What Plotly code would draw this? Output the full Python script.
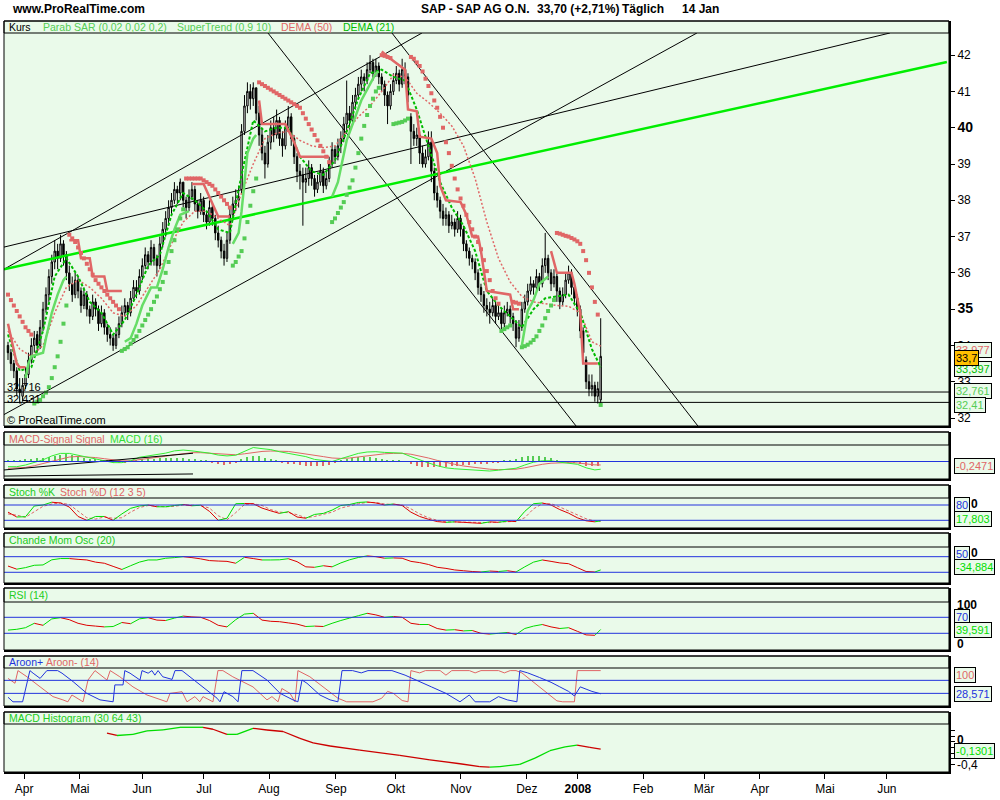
import plotly.graph_objects as go

# ---------------- DATA ----------------
open_ = [34.0,33.8,33.5,33.3,32.8,32.6,32.9,33.2,33.6,34.0,
         34.3,34.0,34.5,35.0,35.4,35.9,36.3,36.6,36.4,36.8,
         36.5,36.0,35.7,35.4,35.8,35.5,35.1,35.4,35.0,34.8,
         35.2,35.0,34.6,34.9,34.5,34.3,34.2,34.0,34.3,34.6,
         34.9,35.1,34.9,35.3,35.6,35.5,35.9,36.2,36.5,36.3,
         36.7,36.4,36.2,36.8,37.2,37.5,37.8,38.0,38.3,38.2,
         38.5,38.0,37.8,38.1,38.3,37.9,37.7,38.0,37.6,37.4,
         37.8,37.5,37.1,36.9,36.6,36.4,36.9,37.6,37.9,38.0,
         38.3,39.9,40.6,41.0,40.8,41.1,40.4,39.8,39.3,39.0,
         39.6,40.0,39.8,40.2,39.7,39.5,40.0,40.3,39.7,39.2,
         38.8,38.7,38.5,38.6,38.9,38.6,38.3,38.5,38.8,38.4,
         38.6,39.0,39.4,39.2,39.5,39.7,40.1,40.4,40.2,40.7,
         40.9,41.2,41.4,41.3,41.6,41.8,41.5,41.7,41.4,41.2,
         40.9,40.6,41.0,41.3,41.5,41.2,41.6,41.4,40.3,39.9,
         39.7,39.8,39.3,39.0,39.2,39.6,38.8,38.2,38.0,37.7,
         37.5,37.6,37.3,37.4,37.2,37.5,37.2,36.8,36.6,36.4,
         36.3,36.0,35.6,35.4,35.1,35.0,34.9,35.1,34.8,34.9,
         34.6,34.9,35.0,34.8,34.6,34.2,34.5,35.0,35.2,35.5,
         35.7,35.6,35.9,35.7,36.2,36.4,36.0,35.7,35.9,35.5,
         35.2,35.4,35.8,36.0,35.6,35.3,35.0,34.4,33.6,33.0,
         32.8,32.9,32.6,32.5]
high = [34.1,33.9,33.6,33.4,33.1,33.1,33.4,33.8,34.2,34.4,
        34.4,34.7,35.2,35.6,36.1,36.5,36.9,36.8,37.05,36.9,
        36.6,36.2,35.9,36.0,35.9,35.6,35.6,35.5,35.1,35.4,
        35.3,35.1,35.1,35.0,34.6,34.5,34.3,34.5,34.8,35.1,
        35.3,35.2,35.5,35.8,35.8,36.1,36.4,36.7,36.6,36.9,
        36.8,36.5,37.0,37.4,37.7,38.0,38.2,38.5,38.4,38.6,
        38.5,38.1,38.3,38.5,38.4,38.0,38.2,38.1,37.7,38.0,
        37.9,37.6,37.3,37.0,36.8,37.1,37.8,38.1,38.3,38.4,
        40.1,40.9,41.25,41.2,41.25,41.1,40.6,40.0,39.5,39.8,
        40.2,40.3,40.5,40.3,39.9,40.2,40.6,40.4,39.8,39.3,
        39.0,38.9,38.9,39.1,39.0,38.7,38.7,39.0,38.9,38.8,
        39.2,39.6,39.5,39.7,39.9,40.3,41.3,40.6,40.9,41.1,
        41.4,41.6,41.5,41.8,42.0,41.9,41.9,41.8,41.5,41.3,
        41.0,41.2,41.5,41.7,41.6,41.9,41.8,41.5,40.4,40.1,
        40.0,39.9,39.5,39.4,39.9,39.9,38.9,38.4,38.1,37.9,
        37.8,37.7,37.6,37.5,37.7,37.6,37.3,36.9,36.7,36.5,
        36.4,36.1,35.7,35.5,35.3,35.2,35.3,35.2,35.1,35.0,
        35.1,35.2,35.1,34.9,34.7,34.7,35.2,35.4,35.7,35.9,
        35.8,36.1,36.0,36.4,37.1,36.5,36.1,36.1,36.0,35.6,
        35.6,36.0,36.2,36.1,35.7,35.4,35.1,34.5,33.7,33.2,
        33.2,33.0,33.0,34.75]
low = [33.6,33.3,33.1,32.6,32.4,32.45,32.8,33.1,33.5,33.8,
       33.8,33.9,34.4,34.9,35.2,35.7,36.1,36.1,36.3,36.2,
       35.8,35.5,35.2,35.3,35.3,34.9,35.0,34.8,34.6,34.7,
       34.8,34.4,34.5,34.3,34.1,34.0,33.85,33.9,34.2,34.5,
       34.8,34.7,34.8,35.2,35.3,35.4,35.8,36.1,36.1,36.2,
       36.2,35.9,36.1,36.7,37.0,37.3,37.6,37.9,37.9,38.0,
       37.8,37.5,37.7,38.0,37.7,37.5,37.6,37.4,37.2,37.3,
       37.3,36.9,36.7,36.4,36.2,36.3,36.8,37.5,37.7,37.8,
       38.2,39.8,40.4,40.5,40.6,40.2,39.5,39.1,38.6,38.9,
       39.4,39.6,39.7,39.5,39.2,39.4,39.9,39.5,39.0,38.5,
       38.3,37.3,38.2,38.4,38.4,38.1,38.2,38.4,38.2,38.3,
       38.5,38.9,39.0,39.1,39.3,39.6,39.9,39.9,40.1,40.5,
       40.8,41.0,41.0,41.2,41.5,41.3,41.4,41.2,41.0,40.6,
       40.1,40.5,40.9,41.2,41.0,41.1,41.2,40.7,39.0,39.5,
       39.5,39.0,38.9,38.9,39.1,38.5,38.0,37.8,37.5,37.3,
       37.3,37.1,37.2,37.0,37.1,37.0,36.6,36.4,36.2,36.1,
       35.8,35.4,35.2,34.9,34.8,34.6,34.8,34.6,34.7,34.4,
       34.5,34.8,34.6,34.4,33.95,34.1,34.4,34.9,35.1,35.4,
       35.4,35.5,35.5,35.6,36.0,35.8,35.5,35.6,35.2,35.0,
       35.1,35.3,35.7,35.4,35.1,34.8,34.2,33.6,32.8,32.6,
       32.6,32.45,32.4,32.36]
close = [33.8,33.5,33.3,32.8,32.7,32.9,33.2,33.6,34.0,34.2,
         34.0,34.5,35.0,35.4,35.9,36.3,36.6,36.4,36.8,36.5,
         36.0,35.7,35.4,35.8,35.5,35.1,35.4,35.0,34.8,35.2,
         35.0,34.6,34.9,34.5,34.3,34.2,34.0,34.3,34.6,34.9,
         35.1,34.9,35.3,35.6,35.5,35.9,36.2,36.5,36.3,36.7,
         36.4,36.2,36.8,37.2,37.5,37.8,38.0,38.3,38.2,38.5,
         38.0,37.8,38.1,38.3,37.9,37.7,38.0,37.6,37.4,37.8,
         37.5,37.1,36.9,36.6,36.4,36.9,37.6,37.9,38.0,38.1,
         39.9,40.6,41.0,40.8,41.1,40.4,39.8,39.3,39.0,39.6,
         40.0,39.8,40.2,39.7,39.5,40.0,40.3,39.7,39.2,38.8,
         38.7,38.5,38.6,38.9,38.6,38.3,38.5,38.8,38.4,38.6,
         39.0,39.4,39.2,39.5,39.7,40.1,40.4,40.2,40.7,40.9,
         41.2,41.4,41.3,41.6,41.8,41.5,41.7,41.4,41.2,40.9,
         40.6,41.0,41.3,41.5,41.2,41.6,41.4,40.9,39.9,39.7,
         39.8,39.3,39.0,39.2,39.6,38.8,38.2,38.0,37.7,37.5,
         37.6,37.3,37.4,37.2,37.5,37.2,36.8,36.6,36.4,36.3,
         36.0,35.6,35.4,35.1,35.0,34.9,35.1,34.8,34.9,34.6,
         34.9,35.0,34.8,34.6,34.2,34.5,35.0,35.2,35.5,35.7,
         35.6,35.9,35.7,36.2,36.4,36.0,35.7,35.9,35.5,35.2,
         35.4,35.8,36.0,35.6,35.3,35.0,34.4,33.8,33.0,32.8,
         32.9,32.6,32.81,33.7]
bar_idx = list(range(len(close)))

# Parabolic SAR, one value per bar
sar = [35.4,35.25,35.1,34.95,34.8,34.65,34.5,34.4,34.3,
       32.4,32.45,32.5,32.6,32.7,32.85,33.1,33.4,33.7,34.1,34.6,35.1,
       37.05,36.95,36.85,36.7,36.55,36.4,36.25,36.1,35.95,35.8,35.7,35.6,35.5,35.4,35.3,35.2,35.1,35.0,
       33.85,33.9,33.95,34.05,34.15,34.25,34.4,34.55,34.7,34.85,35.0,35.2,35.35,35.55,35.75,36.0,36.3,36.6,36.9,37.2,37.5,37.75,
       38.6,38.6,38.6,38.6,38.6,38.6,38.55,38.5,38.45,38.4,38.3,38.2,38.1,38.0,37.9,37.8,
       36.2,36.3,36.45,36.6,36.95,37.4,37.85,38.25,38.6,
       41.25,41.2,41.15,41.1,41.05,41.0,40.95,40.9,40.85,40.8,40.75,40.7,40.65,40.6,40.55,
       40.4,40.25,40.1,39.95,39.8,39.65,39.5,39.35,39.2,39.05,
       37.4,37.5,37.65,37.8,37.95,38.15,38.35,38.55,38.9,39.3,39.7,40.05,40.35,40.6,40.8,41.0,41.1,
       42.0,41.98,41.95,41.92,
       40.1,40.12,40.14,40.16,40.2,40.25,
       41.95,41.9,41.8,41.7,41.55,41.35,41.15,40.95,40.75,40.55,40.3,40.0,39.6,39.3,38.95,
       38.6,38.3,38.05,37.85,37.6,37.4,37.2,37.0,36.85,36.65,36.35,36.05,35.8,35.5,35.3,
       35.15,
       34.4,34.45,34.5,34.55,
       35.2,35.18,35.15,
       33.95,33.98,34.02,34.08,34.15,34.25,34.4,34.55,34.75,34.95,35.1,35.25,
       37.1,37.08,37.05,37.02,37.0,36.96,36.92,36.87,36.8,36.6,36.35,36.0,35.6,35.2,34.85,
       32.36]

# SuperTrend (0,9 10): polyline vertices (bar index, price)
st_red_x = [0,1,2,3,4,6,None,
            21,24,25,28,29,33,34,39,None,
            63,67,72,76,None,
            86,87,95,98,100,110,None,
            128,131,136,137,140,141,145,147,148,150,155,157,159,161,162,164,172,173,175,None,
            186,188,193,194,195,196,197,202]
st_red_y = [34.6,34.2,33.8,33.5,33.4,33.4,None,
            36.9,36.9,36.4,36.4,35.9,35.9,35.5,35.5,None,
            38.45,38.45,37.55,37.55,None,
            40.75,40.1,40.1,39.6,39.2,39.2,None,
            42.1,41.9,41.6,40.5,40.45,39.75,39.7,39.3,38.4,38.0,37.95,37.6,37.0,37.0,36.6,35.5,35.4,35.0,35.0,None,
            36.6,36.0,36.0,35.7,35.3,34.9,33.5,33.5]
st_green_x = [6,7,8,12,13,15,17,19,20,None,
              40,42,44,46,49,51,53,55,57,59,62,None,
              77,79,80,81,82,84,85,None,
              111,113,116,121,124,126,127,None,
              176,178,180,182,185]
st_green_y = [33.1,33.5,33.7,33.8,34.2,34.9,35.4,35.8,35.9,None,
              34.1,34.2,34.6,35.1,35.6,35.6,36.1,36.7,37.2,37.6,37.7,None,
              36.8,37.1,37.7,38.6,39.3,39.7,39.8,None,
              38.1,38.5,39.65,40.75,41.2,41.5,41.55,None,
              34.0,34.95,35.25,35.7,35.9]

# DEMA lines (every 4th bar + last bar)
dema_x = [0,4,8,12,16,20,24,28,32,36,40,44,48,52,56,60,64,68,72,76,80,84,88,92,96,100,
          104,108,112,116,120,124,128,132,136,140,144,148,152,156,160,164,168,172,176,180,184,188,192,196,200,203]
dema50 = [34.4,33.9,33.7,34.0,34.9,35.6,35.8,35.6,35.3,34.9,34.8,35.1,35.6,36.1,36.8,37.4,37.7,37.7,37.5,37.3,38.2,39.0,39.7,39.85,39.9,39.65,
          39.5,39.45,39.5,39.9,40.3,40.6,41.0,41.45,41.4,40.95,40.7,40.4,40.05,39.5,38.6,37.4,36.4,35.75,35.35,35.2,35.15,35.1,35.08,34.9,34.1,33.98]
dema21 = [34.3,33.3,33.4,34.4,35.9,36.4,35.9,35.2,34.9,34.3,34.7,35.4,36.2,36.5,37.6,38.2,38.0,37.7,37.2,37.1,38.7,40.2,39.9,40.0,40.0,39.2,
          38.8,38.7,39.1,39.9,40.8,41.5,41.6,41.4,41.3,40.5,39.5,38.5,37.8,37.3,36.6,35.5,35.1,34.8,34.5,35.0,35.3,35.35,35.4,34.9,33.9,33.4]

# drawn trend lines: (bar index, price) end points
trend_black = [((-1.71, 32.08), (235.96, 42.61)),
               ((-1.37, 36.10), (141.78, 42.61)),
               ((-1.37, 36.71), (302.05, 42.61)),
               ((89.04, 42.61), (194.86, 31.75)),
               ((131.5, 42.61), (236.3, 31.78))]
trend_green = ((-1.37, 36.10), (321.58, 41.81))
support_levels = [32.716, 32.431]

# oscillators (every 3rd bar + last bar)
osc_x = list(range(0, 202, 3)) + [203]
stoch_k = [52,33,34,76,80,91,88,72,35,20,35,35,20,45,67,76,80,73,73,78,82,77,79,55,20,28,85,86,85,68,
           57,47,54,33,28,43,47,60,78,82,90,92,88,80,84,78,52,35,24,15,12,14,12,10,8,14,12,17,15,55,
           85,88,80,62,48,30,18,14,17.8]
stoch_d = [45,40,32,55,75,84,88,82,55,30,25,33,28,30,52,70,78,76,73,75,80,79,78,68,38,22,50,82,85,78,
           62,52,50,42,30,35,44,52,68,78,85,90,90,84,82,80,65,45,30,20,14,13,13,11,10,11,13,14,16,30,
           65,85,85,72,56,42,26,17,16]
cmo = [-10,-30,-20,-5,-3,30,38,38,33,29,15,8,-12,-32,-8,15,29,29,40,44,50,44,36,25,22,20,8,46,38,29,
       29,30,37,18,-15,-18,-8,-15,10,30,45,55,50,40,42,40,20,12,0,-18,-25,-35,-40,-45,-48,-42,-45,-40,-48,-15,
       15,29,20,10,5,-20,-45,-48,-34.9]
rsi = [38,40,44,55,50,66,69,64,55,50,48,46,47,57,54,66,69,63,62,68,73,71,70,62,50,46,64,78,80,63,
       60,59,56,53,47,48,47,55,62,68,74,80,76,70,72,70,55,52,52,42,38,39,36,37,30,28,30,32,27,42,
       48,52,46,42,44,35,26,25,39.6]
macd = [-0.37,-0.37,-0.25,-0.08,0.12,0.4,0.58,0.58,0.45,0.3,0.14,0.05,-0.08,-0.08,0.05,0.3,0.4,0.46,0.6,0.76,
        0.82,0.76,0.7,0.6,0.46,0.4,0.45,0.75,1.0,0.92,0.85,0.7,0.6,0.45,0.35,0.15,0.05,0.0,0.2,0.4,
        0.58,0.68,0.7,0.65,0.62,0.6,0.35,0.1,-0.1,-0.3,-0.45,-0.52,-0.55,-0.6,-0.65,-0.68,-0.62,-0.55,-0.48,-0.25,
        -0.05,0.05,0.05,-0.05,-0.1,-0.2,-0.45,-0.6,-0.55]
macd_signal = [-0.49,-0.46,-0.42,-0.3,-0.15,0.05,0.2,0.32,0.36,0.34,0.28,0.2,0.1,0.05,0.05,0.12,0.2,0.3,0.38,0.48,
               0.58,0.63,0.63,0.6,0.55,0.5,0.48,0.55,0.65,0.72,0.75,0.75,0.72,0.63,0.55,0.45,0.35,0.25,0.22,0.25,
               0.33,0.42,0.5,0.55,0.58,0.58,0.52,0.4,0.25,0.08,-0.08,-0.2,-0.32,-0.4,-0.48,-0.55,-0.58,-0.58,-0.55,-0.45,
               -0.32,-0.2,-0.12,-0.08,-0.08,-0.1,-0.18,-0.24,-0.2471]
hist_x = list(range(0, 203, 2))
macd_hist = [0.12,0.12,0.14,0.17,0.2,0.24,0.28,0.34,0.42,0.5,
             0.55,0.5,0.4,0.28,0.2,0.15,0.14,0.12,-0.08,-0.12,
             -0.1,-0.02,0.08,0.18,0.22,0.2,0.22,0.24,0.26,0.26,
             0.25,0.2,0.15,0.1,0.05,-0.1,-0.18,-0.22,-0.15,-0.05,
             0.15,0.3,0.42,0.38,0.25,0.15,0.05,-0.08,-0.15,-0.2,
             -0.25,-0.3,-0.3,-0.3,-0.3,-0.25,-0.12,0.05,0.18,0.28,
             0.32,0.32,0.3,0.25,0.18,0.12,0.08,0.04,0.0,-0.2,
             -0.35,-0.4,-0.42,-0.42,-0.4,-0.38,-0.35,-0.3,-0.25,-0.22,
             -0.2,-0.18,-0.15,-0.12,-0.05,0.05,0.12,0.18,0.3,0.38,
             0.42,0.38,0.3,0.22,0.1,0.0,-0.05,-0.12,-0.2,-0.3,
             -0.32,-0.3]
macd_lines = [((-1.71, -0.61), (63.36, 0.59)), ((-1.71, -1.04), (63.36, -0.89))]

aroon_up_x = [0,1.7,5,7.5,8.6,11,13.3,17,18.5,22.3,27,31.5,36,36.6,39.4,40,41.8,45.2,45.9,48,
              49.3,50.3,51.4,53,56.2,57.2,59.6,61.6,68.2,71.6,72.6,74,77,78.8,80.1,83.9,88.7,93.2,97.6,99.3,
              100.7,102.4,106.8,110.3,113,114.4,118,121,123.3,128,131.5,136,140,145,150,154.8,158,160,165,168,
              171,174.3,175.3,178,182,186,189,192,194,196,198,200,203]
aroon_up_y = [18,4,4,100,92,76,100,100,92,66,30,10,4,56,56,100,92,71,100,92,
              100,86,100,81,73,100,100,86,40,15,4,35,20,4,100,100,71,30,10,4,
              71,61,25,10,4,100,100,93,100,100,100,86,71,50,30,4,25,4,4,20,
              10,4,100,93,79,64,50,36,22,50,43,36,28.6]
aroon_dn_x = [0,2.4,3.4,6.5,11,15.4,18.8,20.5,21.9,25.7,27.4,29.8,33.9,35,38.3,42.8,47.6,52,54.4,55.5,
              59.6,61.3,64,65.7,66.8,70.2,71.9,73.6,77,83.9,88.7,90.4,92.5,93.8,96.6,98.3,99.3,103.4,110.3,113,
              116,125,128,130,132,135,137,138,141,143,148,150,152,158,160,162,168,170,172,174,
              176,180,185,188,190,194,195,203]
aroon_dn_y = [76,61,100,81,50,20,10,4,25,4,71,100,71,100,81,50,25,10,4,30,
              35,4,20,4,20,4,100,100,81,50,10,20,4,45,30,4,100,81,35,15,
              4,4,15,36,30,8,4,100,93,100,100,86,100,100,93,100,100,93,100,100,
              93,64,29,7,4,4,100,100]

mh_x = [33.9,37.3,42.8,47.6,53.1,58.9,66.8,70.2,75,78.4,83.9,88.7,94.2,100,104.5,110.3,120.5,134.2,144.5,154.8,
        161.6,165,168.5,175.3,180.5,185.6,190.8,194.9,199.3,203]
mh_y = [0.15,0.11,0.13,0.19,0.21,0.255,0.255,0.22,0.13,0.13,0.237,0.207,0.18,0.06,-0.02,-0.076,-0.15,-0.24,-0.32,-0.39,
        -0.44,-0.45,-0.44,-0.4,-0.29,-0.16,-0.09,-0.06,-0.1,-0.13]

month_ticks = [5.5, 24.6, 45.9, 67.1, 89.4, 112.3, 132.8, 155.1, 177.7, 195.2, 217.5, 238.4, 257.5, 279.8, 301.0]
month_labels = ["Apr", "Mai", "Jun", "Jul", "Aug", "Sep", "Okt", "Nov", "Dez", "<b>2008</b>",
                "Feb", "Mär", "Apr", "Mai", "Jun"]
price_ticks = [32, 33, 34, 35, 36, 37, 38, 39, 40, 41, 42]

# ---------------- STYLE / LAYOUT ----------------
W, H = 1000, 800
BG = "#EAFAEA"
RED = "#E06666"
GREEN = "#00DD00"
LGREEN = "#55CC55"
DGREEN = "#00BB00"
BLUE = "#2233DD"
DRED = "#DD0000"
FONT = "Liberation Sans, Arial, sans-serif"
XL, XR = 4, 949
TS = 10.5  # strip title font size

def fx(p):
    return p / W

def fy(p):
    return 1 - p / H

# panel: (top, strip bottom, bottom, y-range)
panels = [
    (21, 33, 426, [31.78, 42.61]),
    (432, 445, 479, [-1.25, 1.18]),
    (485, 498, 528, [-10.2, 107.5]),
    (533, 547, 583, [-118.6, 112.0]),
    (588, 602, 650, [-11.75, 108.25]),
    (656, 668, 706, [-8.9, 108.0]),
    (712, 724, 772, [-0.536, 0.313]),
]

fig = go.Figure()

def add_line(x, y, yax, color, width=1, dash=None):
    fig.add_trace(go.Scatter(x=x, y=y, xaxis="x", yaxis=yax, mode="lines",
                             line=dict(color=color, width=width, dash=dash),
                             hoverinfo="skip", showlegend=False, connectgaps=False))

def add_dir_line(xs, ys, yax, up_color, dn_color, width=1):
    ux, uy, dx, dy = [], [], [], []
    for i in range(len(xs) - 1):
        if ys[i + 1] >= ys[i]:
            ux += [xs[i], xs[i + 1], None]; uy += [ys[i], ys[i + 1], None]
        else:
            dx += [xs[i], xs[i + 1], None]; dy += [ys[i], ys[i + 1], None]
    add_line(ux, uy, yax, up_color, width)
    add_line(dx, dy, yax, dn_color, width)

# ---- main panel ----
for (a, b) in trend_black:
    add_line([a[0], b[0]], [a[1], b[1]], "y", "black", 1)
add_line([trend_green[0][0], trend_green[1][0]], [trend_green[0][1], trend_green[1][1]], "y", "#00EE00", 2.5)

add_line(dema_x, dema50, "y", RED, 1.5, "2px,2px")
add_line(dema_x, dema21, "y", DGREEN, 2, "3px,2px")
add_line(st_red_x, st_red_y, "y", RED, 2.5)
add_line(st_green_x, st_green_y, "y", "#66DD66", 2.5)

sar_colors = [RED if s > c else LGREEN for s, c in zip(sar, close)]
fig.add_trace(go.Scatter(x=bar_idx, y=sar, xaxis="x", yaxis="y", mode="markers",
                         marker=dict(symbol="square", size=4, color=sar_colors, line=dict(width=0)),
                         hoverinfo="skip", showlegend=False))

fig.add_trace(go.Candlestick(x=bar_idx, open=open_, high=high, low=low, close=close,
                             xaxis="x", yaxis="y", whiskerwidth=0,
                             increasing=dict(line=dict(color="black", width=1), fillcolor="white"),
                             decreasing=dict(line=dict(color="black", width=1), fillcolor="black"),
                             hoverinfo="skip", showlegend=False))

# ---- MACD panel ----
hist_colors = [LGREEN if v >= 0 else RED for v in macd_hist]
fig.add_trace(go.Bar(x=hist_x, y=macd_hist, xaxis="x", yaxis="y2", width=0.45,
                     marker=dict(color=hist_colors, line=dict(width=0)),
                     hoverinfo="skip", showlegend=False))
add_line(osc_x, macd_signal, "y2", RED, 1)
add_line(osc_x, macd, "y2", "#33EE33", 1)
for (a, b) in macd_lines:
    add_line([a[0], b[0]], [a[1], b[1]], "y2", "black", 1)

# ---- Stoch ----
add_line(osc_x, stoch_d, "y3", RED, 1, "3px,2px")
add_dir_line(osc_x, stoch_k, "y3", GREEN, DRED)
# ---- Chande ----
add_dir_line(osc_x, cmo, "y4", GREEN, DRED)
# ---- RSI ----
add_dir_line(osc_x, rsi, "y5", GREEN, DRED)
# ---- Aroon ----
add_line(aroon_dn_x, aroon_dn_y, "y6", RED, 1)
add_line(aroon_up_x, aroon_up_y, "y6", BLUE, 1)
# ---- MACD histogram line ----
add_dir_line(mh_x, mh_y, "y7", GREEN, "#CC0000", 1.3)

shapes = []
levels = [("y2", 0), ("y3", 80), ("y3", 20), ("y4", 50), ("y4", -50),
          ("y5", 70), ("y5", 30), ("y6", 70), ("y6", 30)]
for yax, v in levels:
    shapes.append(dict(type="line", xref="x domain", yref=yax, x0=0, x1=1, y0=v, y1=v,
                       line=dict(color=BLUE, width=1), layer="above"))
for v in support_levels:
    shapes.append(dict(type="line", xref="x domain", yref="y", x0=0, x1=1, y0=v, y1=v,
                       line=dict(color="black", width=1), layer="above"))

for top, strip, bot, _ in panels:
    shapes.append(dict(type="rect", xref="paper", yref="paper", x0=fx(XL), x1=fx(XR),
                       y0=fy(strip), y1=fy(top), fillcolor=BG, line=dict(color="black", width=1)))
    shapes.append(dict(type="rect", xref="paper", yref="paper", x0=fx(XL), x1=fx(XR),
                       y0=fy(bot), y1=fy(top), line=dict(color="black", width=1)))
    shapes.append(dict(type="line", xref="paper", yref="paper", x0=fx(XR + 1), x1=fx(XR + 1),
                       y0=fy(bot + 2), y1=fy(top), line=dict(color="black", width=2)))
    shapes.append(dict(type="line", xref="paper", yref="paper", x0=fx(XL), x1=fx(XR + 2),
                       y0=fy(bot + 1), y1=fy(bot + 1), line=dict(color="black", width=2)))

annotations = []

def text(xp, yp, s, color="black", size=11, anchor="left", bg=None, bold=False):
    if bold:
        s = "<b>" + s + "</b>"
    d = dict(x=fx(xp), y=fy(yp), xref="paper", yref="paper", text=s, showarrow=False,
             xanchor=anchor, yanchor="middle", font=dict(family=FONT, size=size, color=color))
    if bg:
        d.update(bgcolor=bg, bordercolor="black", borderwidth=1, borderpad=1)
    annotations.append(d)

# header
text(10, 9, "www.ProRealTime.com", size=12, bold=True)
text(419, 9, "SAP - SAP AG O.N.", size=12, bold=True)
text(535, 9, "33,70 (+2,71%)", size=12, bold=True)
text(620, 9, "Täglich", size=12, bold=True)
text(680, 9, "14 Jan", size=12, bold=True)

# strip titles
text(7, 27, "Kurs", size=TS)
text(41, 27, "Parab SAR (0,02 0,02 0,2)", LGREEN, size=TS)
text(175, 27, "SuperTrend (0,9 10)", LGREEN, size=TS)
text(279, 27, "DEMA (50)", RED, size=TS)
text(341, 27, "DEMA (21)", DGREEN, size=TS)
text(7, 438.5, "MACD-Signal Signal", RED, size=TS)
text(108, 438.5, "MACD (16)", "#33DD33", size=TS)
text(7, 491.5, "Stoch %K", "#22CC22", size=TS)
text(58, 491.5, "Stoch %D (12 3 5)", RED, size=TS)
text(7, 540, "Chande Mom Osc (20)", "#22CC22", size=TS)
text(7, 595, "RSI (14)", "#22CC22", size=TS)
text(7, 662, "Aroon+", BLUE, size=TS)
text(44, 662, "Aroon- (14)", RED, size=TS)
text(7, 718, "MACD Histogram (30 64 43)", "#22CC22", size=TS)

# main chart inner labels
text(5, 387, "32,716")
text(5, 399, "32,431")
text(5, 420, "© ProRealTime.com")

# right-side value boxes (main)
text(954, 350, "33,977", RED, bg=BG)
text(954, 369, "33,397", DGREEN, bg=BG)
text(954, 358, "33,7", "black", bg="#FFC000")
text(954, 391, "32,761", LGREEN, bg=BG)
text(954, 405, "32,41", LGREEN, bg=BG)

# indicator right side
text(954, 466, "-0,2471", RED, bg=BG)
text(969, 504, "0", size=12, bold=True)
text(954, 505, "80", BLUE, bg=BG)
text(954, 519, "17,803", GREEN, bg=BG)
text(969, 553, "0", size=12, bold=True)
text(954, 554, "50", BLUE, bg=BG)
text(954, 567, "-34,884", GREEN, bg=BG)
text(955, 605, "100", size=12, bold=True)
text(955, 644, "0", size=12, bold=True)
text(954, 617, "70", BLUE, bg=BG)
text(954, 629.5, "39,591", GREEN, bg=BG)
text(954, 675, "100", RED, bg=BG)
text(954, 693.5, "28,571", BLUE, bg=BG)
text(955, 740, "0", size=12, bold=True)
text(955, 765, "-0,4", size=12)
text(954, 751, "-0,1301", GREEN, bg=BG)

layout = dict(
    width=W, height=H, autosize=False,
    margin=dict(l=0, r=0, t=0, b=0, pad=0),
    paper_bgcolor="white", plot_bgcolor=BG,
    font=dict(family=FONT, size=11, color="black"),
    showlegend=False, bargap=0,
    shapes=shapes, annotations=annotations,
    xaxis=dict(domain=[fx(XL), fx(XR)], anchor="y7", range=[-1.37, 322.3],
               tickmode="array", tickvals=month_ticks, ticktext=month_labels,
               ticks="outside", ticklen=6, tickcolor="black", tickwidth=1,
               tickfont=dict(size=12, color="black", family=FONT),
               showgrid=False, zeroline=False, showline=False,
               rangeslider=dict(visible=False)),
)
price_text = ["<b><span style='font-size:14px'>%d</span></b>" % v if v in (35, 40) else str(v)
              for v in price_ticks]
for i, (top, strip, bot, rng) in enumerate(panels):
    key = "yaxis" if i == 0 else "yaxis%d" % (i + 1)
    ax = dict(domain=[fy(bot), fy(strip)], anchor="x", side="right", range=rng,
              showgrid=False, zeroline=False, showline=False, fixedrange=True)
    if i == 0:
        ax.update(tickmode="array", tickvals=price_ticks, ticktext=price_text,
                  ticks="outside", ticklen=5, tickcolor="black",
                  tickfont=dict(size=12, color="black", family=FONT))
    elif i == 6:
        ax.update(tickmode="array", tickvals=[0.2, 0.1, 0.0, -0.1, -0.2, -0.3, -0.4],
                  showticklabels=False, ticks="outside", ticklen=5, tickcolor="black")
    else:
        ax.update(showticklabels=False, ticks="")
    layout[key] = ax

fig.update_layout(**layout)
fig.write_html("out.html", config={"displayModeBar": False},
               post_script="document.body.style.margin='0';")
